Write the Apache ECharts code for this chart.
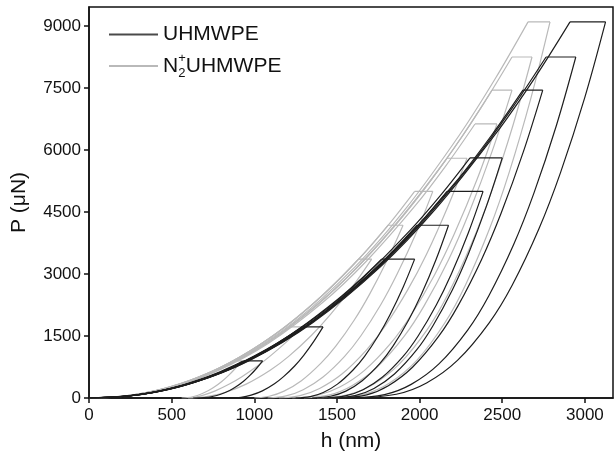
<!DOCTYPE html>
<html>
<head>
<meta charset="utf-8">
<script src="https://cdn.jsdelivr.net/npm/echarts@6/dist/echarts.min.js"></script>
<style>html,body{margin:0;padding:0;background:#fff}#c{width:614px;height:455px}</style>
</head>
<body>
<div id="c"></div>
<script>
// ---- Data: [h (nm), P (uN)] ----
// UHMWPE (black)
const UH_load_900  = [[0,0],[105,9],[202,36],[312,90],[435,180],[568,315],[672,450],[789,630],[866,765],[935,900]];
const UH_unload_900 = [[1050,900],[1014,720],[972,540],[935,405],[889,270],[851,180],[797,90],[746,36],[697,9],[630,0]];
const UH_load_1720 = [[0,0],[144,17],[279,69],[431,172],[600,344],[783,602],[928,860],[1089,1204],[1195,1462],[1290,1720]];
const UH_unload_1720 = [[1416,1720],[1361,1376],[1299,1032],[1244,774],[1177,516],[1122,344],[1049,172],[981,69],[920,17],[850,0]];
const UH_load_3360 = [[0,0],[198,34],[382,134],[591,336],[823,672],[1074,1176],[1273,1680],[1494,2352],[1639,2856],[1770,3360]];
const UH_unload_3360 = [[1970,3360],[1901,2688],[1821,2016],[1751,1512],[1667,1008],[1596,672],[1503,336],[1417,134],[1339,34],[1250,0]];
const UH_load_4180 = [[0,0],[222,42],[429,167],[663,418],[923,836],[1205,1463],[1427,2090],[1675,2926],[1838,3553],[1985,4180]];
const UH_unload_4180 = [[2175,4180],[2099,3344],[2011,2508],[1933,1881],[1839,1254],[1760,836],[1653,418],[1554,167],[1461,42],[1350,0]];
const UH_load_5000 = [[0,0],[243,50],[468,200],[723,500],[1007,1000],[1315,1750],[1557,2500],[1828,3500],[2006,4250],[2166,5000]];
const UH_unload_5000 = [[2384,5000],[2295,4000],[2192,3000],[2101,2250],[1991,1500],[1899,1000],[1774,500],[1658,200],[1550,50],[1420,0]];
const UH_load_5810 = [[0,0],[258,58],[498,232],[770,581],[1072,1162],[1399,2034],[1657,2905],[1945,4067],[2134,4939],[2305,5810]];
const UH_unload_5810 = [[2500,5810],[2405,4648],[2295,3486],[2198,2615],[2080,1743],[1982,1162],[1848,581],[1724,232],[1609,58],[1470,0]];
const UH_load_7450 = [[0,0],[294,75],[567,298],[877,745],[1221,1490],[1593,2608],[1887,3725],[2216,5215],[2431,6333],[2625,7450]];
const UH_unload_7450 = [[2745,7450],[2628,5960],[2493,4470],[2375,3353],[2233,2235],[2115,1490],[1957,745],[1811,298],[1680,75],[1530,0]];
const UH_load_8250 = [[0,0],[310,83],[597,330],[924,825],[1286,1650],[1678,2888],[1988,4125],[2334,5775],[2560,7013],[2765,8250]];
const UH_unload_8250 = [[2945,8250],[2828,6600],[2691,4950],[2569,3713],[2419,2475],[2292,1650],[2117,825],[1949,330],[1788,83],[1570,0]];
const UH_load_9100 = [[0,0],[326,91],[629,364],[972,910],[1353,1820],[1766,3185],[2092,4550],[2456,6370],[2695,7735],[2910,9100]];
const UH_unload_9100 = [[3125,9100],[3000,7280],[2853,5460],[2722,4095],[2560,2730],[2421,1820],[2229,910],[2042,364],[1859,91],[1600,0]];
// N2+ UHMWPE (grey)
const N2_load_900  = [[0,0],[99,9],[190,36],[294,90],[409,180],[534,315],[633,450],[743,630],[815,765],[880,900]];
const N2_unload_900 = [[925,900],[886,720],[843,540],[805,405],[760,270],[723,180],[675,90],[633,36],[597,9],[560,0]];
const N2_load_1720 = [[0,0],[136,17],[263,69],[406,172],[565,344],[738,602],[874,860],[1026,1204],[1126,1462],[1216,1720]];
const N2_unload_1720 = [[1290,1720],[1200,1376],[1101,1032],[1019,774],[925,516],[852,344],[764,172],[692,69],[639,17],[600,0]];
const N2_load_3360 = [[0,0],[183,34],[352,134],[544,336],[758,672],[989,1176],[1172,1680],[1376,2352],[1509,2856],[1630,3360]];
const N2_unload_3360 = [[1710,3360],[1593,2688],[1460,2016],[1345,1512],[1208,1008],[1096,672],[951,336],[822,134],[711,34],[600,0]];
const N2_load_4180 = [[0,0],[203,42],[391,167],[605,418],[842,836],[1099,1463],[1301,2090],[1528,2926],[1676,3553],[1810,4180]];
const N2_unload_4180 = [[1900,4180],[1805,3344],[1697,2508],[1604,1881],[1493,1254],[1402,836],[1285,418],[1180,167],[1090,42],[1000,0]];
const N2_load_5000 = [[0,0],[221,50],[426,200],[658,500],[916,1000],[1196,1750],[1416,2500],[1663,3500],[1824,4250],[1970,5000]];
const N2_unload_5000 = [[2080,5000],[1980,4000],[1864,3000],[1764,2250],[1644,1500],[1545,1000],[1414,500],[1296,200],[1192,50],[1080,0]];
const N2_load_5800 = [[0,0],[243,58],[468,232],[723,580],[1007,1160],[1315,2030],[1557,2900],[1828,4060],[2006,4930],[2166,5800]];
const N2_unload_5800 = [[2287,5800],[2172,4640],[2042,3480],[1927,2610],[1791,1740],[1678,1160],[1530,580],[1395,232],[1277,58],[1150,0]];
const N2_load_6630 = [[0,0],[262,66],[504,265],[780,663],[1086,1326],[1417,2321],[1679,3315],[1971,4641],[2162,5636],[2335,6630]];
const N2_unload_6630 = [[2468,6630],[2349,5304],[2211,3978],[2091,2984],[1946,1989],[1826,1326],[1665,663],[1517,265],[1383,66],[1230,0]];
const N2_load_7450 = [[0,0],[273,75],[527,298],[814,745],[1134,1490],[1480,2608],[1753,3725],[2058,5215],[2258,6333],[2438,7450]];
const N2_unload_7450 = [[2559,7450],[2438,5960],[2298,4470],[2176,3353],[2028,2235],[1906,1490],[1742,745],[1591,298],[1455,75],[1300,0]];
const N2_load_8250 = [[0,0],[287,83],[553,330],[855,825],[1190,1650],[1553,2888],[1840,4125],[2160,5775],[2370,7013],[2559,8250]];
const N2_unload_8250 = [[2680,8250],[2565,6600],[2431,4950],[2312,3713],[2167,2475],[2045,1650],[1878,825],[1720,330],[1571,83],[1380,0]];
const N2_load_9100 = [[0,0],[297,91],[574,364],[887,910],[1235,1820],[1612,3185],[1910,4550],[2242,6370],[2459,7735],[2656,9100]];
const N2_unload_9100 = [[2789,9100],[2675,7280],[2542,5460],[2423,4095],[2277,2730],[2153,1820],[1983,910],[1819,364],[1662,91],[1450,0]];

const xTicks = [0, 500, 1000, 1500, 2000, 2500, 3000];
const yTicks = [0, 1500, 3000, 4500, 6000, 7500, 9000];

const UH_cycles = [
  [UH_load_900, UH_unload_900], [UH_load_1720, UH_unload_1720], [UH_load_3360, UH_unload_3360],
  [UH_load_4180, UH_unload_4180], [UH_load_5000, UH_unload_5000], [UH_load_5810, UH_unload_5810],
  [UH_load_7450, UH_unload_7450], [UH_load_8250, UH_unload_8250], [UH_load_9100, UH_unload_9100]
];
const N2_cycles = [
  [N2_load_900, N2_unload_900], [N2_load_1720, N2_unload_1720], [N2_load_3360, N2_unload_3360],
  [N2_load_4180, N2_unload_4180], [N2_load_5000, N2_unload_5000], [N2_load_5800, N2_unload_5800],
  [N2_load_6630, N2_unload_6630], [N2_load_7450, N2_unload_7450], [N2_load_8250, N2_unload_8250],
  [N2_load_9100, N2_unload_9100]
];

const BLACK = '#1e1e1e', GREY = '#b9b9b9';
const FONT = 'Liberation Sans, Arial, Helvetica, sans-serif';

function cycleSeries(cycles, name, color, z) {
  const out = [];
  cycles.forEach(([load, unload]) => {
    const common = { type: 'line', name: name, symbol: 'none', showSymbol: false, z: z, animation: false,
      lineStyle: { color: color, width: 1.2 }, itemStyle: { color: color } };
    out.push(Object.assign({}, common, { data: load, smooth: 0.35 }));
    out.push(Object.assign({}, common, { data: [load[load.length - 1], unload[0]] }));
    out.push(Object.assign({}, common, { data: unload, smooth: 0.35 }));
  });
  return out;
}

const series = [].concat(
  cycleSeries(N2_cycles, 'N2+UHMWPE', GREY, 2),
  cycleSeries(UH_cycles, 'UHMWPE', BLACK, 3)
);

const chart = echarts.init(document.getElementById('c'), null, { renderer: 'canvas' });
chart.setOption({
  backgroundColor: '#fff',
  animation: false,
  textStyle: { fontFamily: FONT },
  grid: { left: 89, right: 1, top: 7, bottom: 57, containLabel: false, outerBoundsMode: 'none',
    show: true, borderColor: '#111', borderWidth: 1.5, backgroundColor: 'transparent' },
  legend: {
    orient: 'vertical', left: 109, top: 24, padding: 0, itemGap: 7,
    itemWidth: 49, itemHeight: 2, icon: 'rect',
    data: [
      { name: 'UHMWPE', itemStyle: { color: '#4a4a4a' } },
      { name: 'N2+UHMWPE', itemStyle: { color: GREY } }
    ],
    formatter: function (n) {
      return n === 'UHMWPE' ? '{t|UHMWPE}' : '{t|N}{sub|2}{sup|+}{t|UHMWPE}';
    },
    textStyle: {
      fontFamily: FONT, color: '#111',
      rich: {
        t: { fontSize: 21, lineHeight: 28, fontFamily: FONT, color: '#111' },
        sub: { fontSize: 13, lineHeight: 13, verticalAlign: 'bottom', width: 0, fontFamily: FONT, color: '#111' },
        sup: { fontSize: 13, lineHeight: 13, verticalAlign: 'top', fontFamily: FONT, color: '#111' }
      }
    }
  },
  xAxis: {
    type: 'value', min: 0, max: 3170, interval: 500,
    name: 'h (nm)', nameLocation: 'middle', nameGap: 33,
    nameTextStyle: { fontSize: 21, color: '#111', fontFamily: FONT },
    axisLine: { show: true, lineStyle: { color: '#111', width: 1.5 } },
    axisTick: { show: true, inside: false, length: 5, lineStyle: { color: '#111', width: 1.5 } },
    splitLine: { show: false },
    axisLabel: { fontSize: 17, color: '#111', margin: 9, fontFamily: FONT, showMaxLabel: false,
      formatter: v => xTicks.indexOf(v) >= 0 ? String(v) : '' }
  },
  yAxis: {
    type: 'value', min: 0, max: 9460, interval: 1500,
    name: 'P (\u03bcN)', nameLocation: 'middle', nameGap: 59,
    nameTextStyle: { fontSize: 21, color: '#111', fontFamily: FONT },
    axisLine: { show: true, lineStyle: { color: '#111', width: 1.5 } },
    axisTick: { show: true, inside: false, length: 5, lineStyle: { color: '#111', width: 1.5 } },
    splitLine: { show: false },
    axisLabel: { fontSize: 17, color: '#111', margin: 8, fontFamily: FONT, showMaxLabel: false,
      formatter: v => yTicks.indexOf(v) >= 0 ? String(v) : '' }
  },
  series: series
});
</script>
</body>
</html>
